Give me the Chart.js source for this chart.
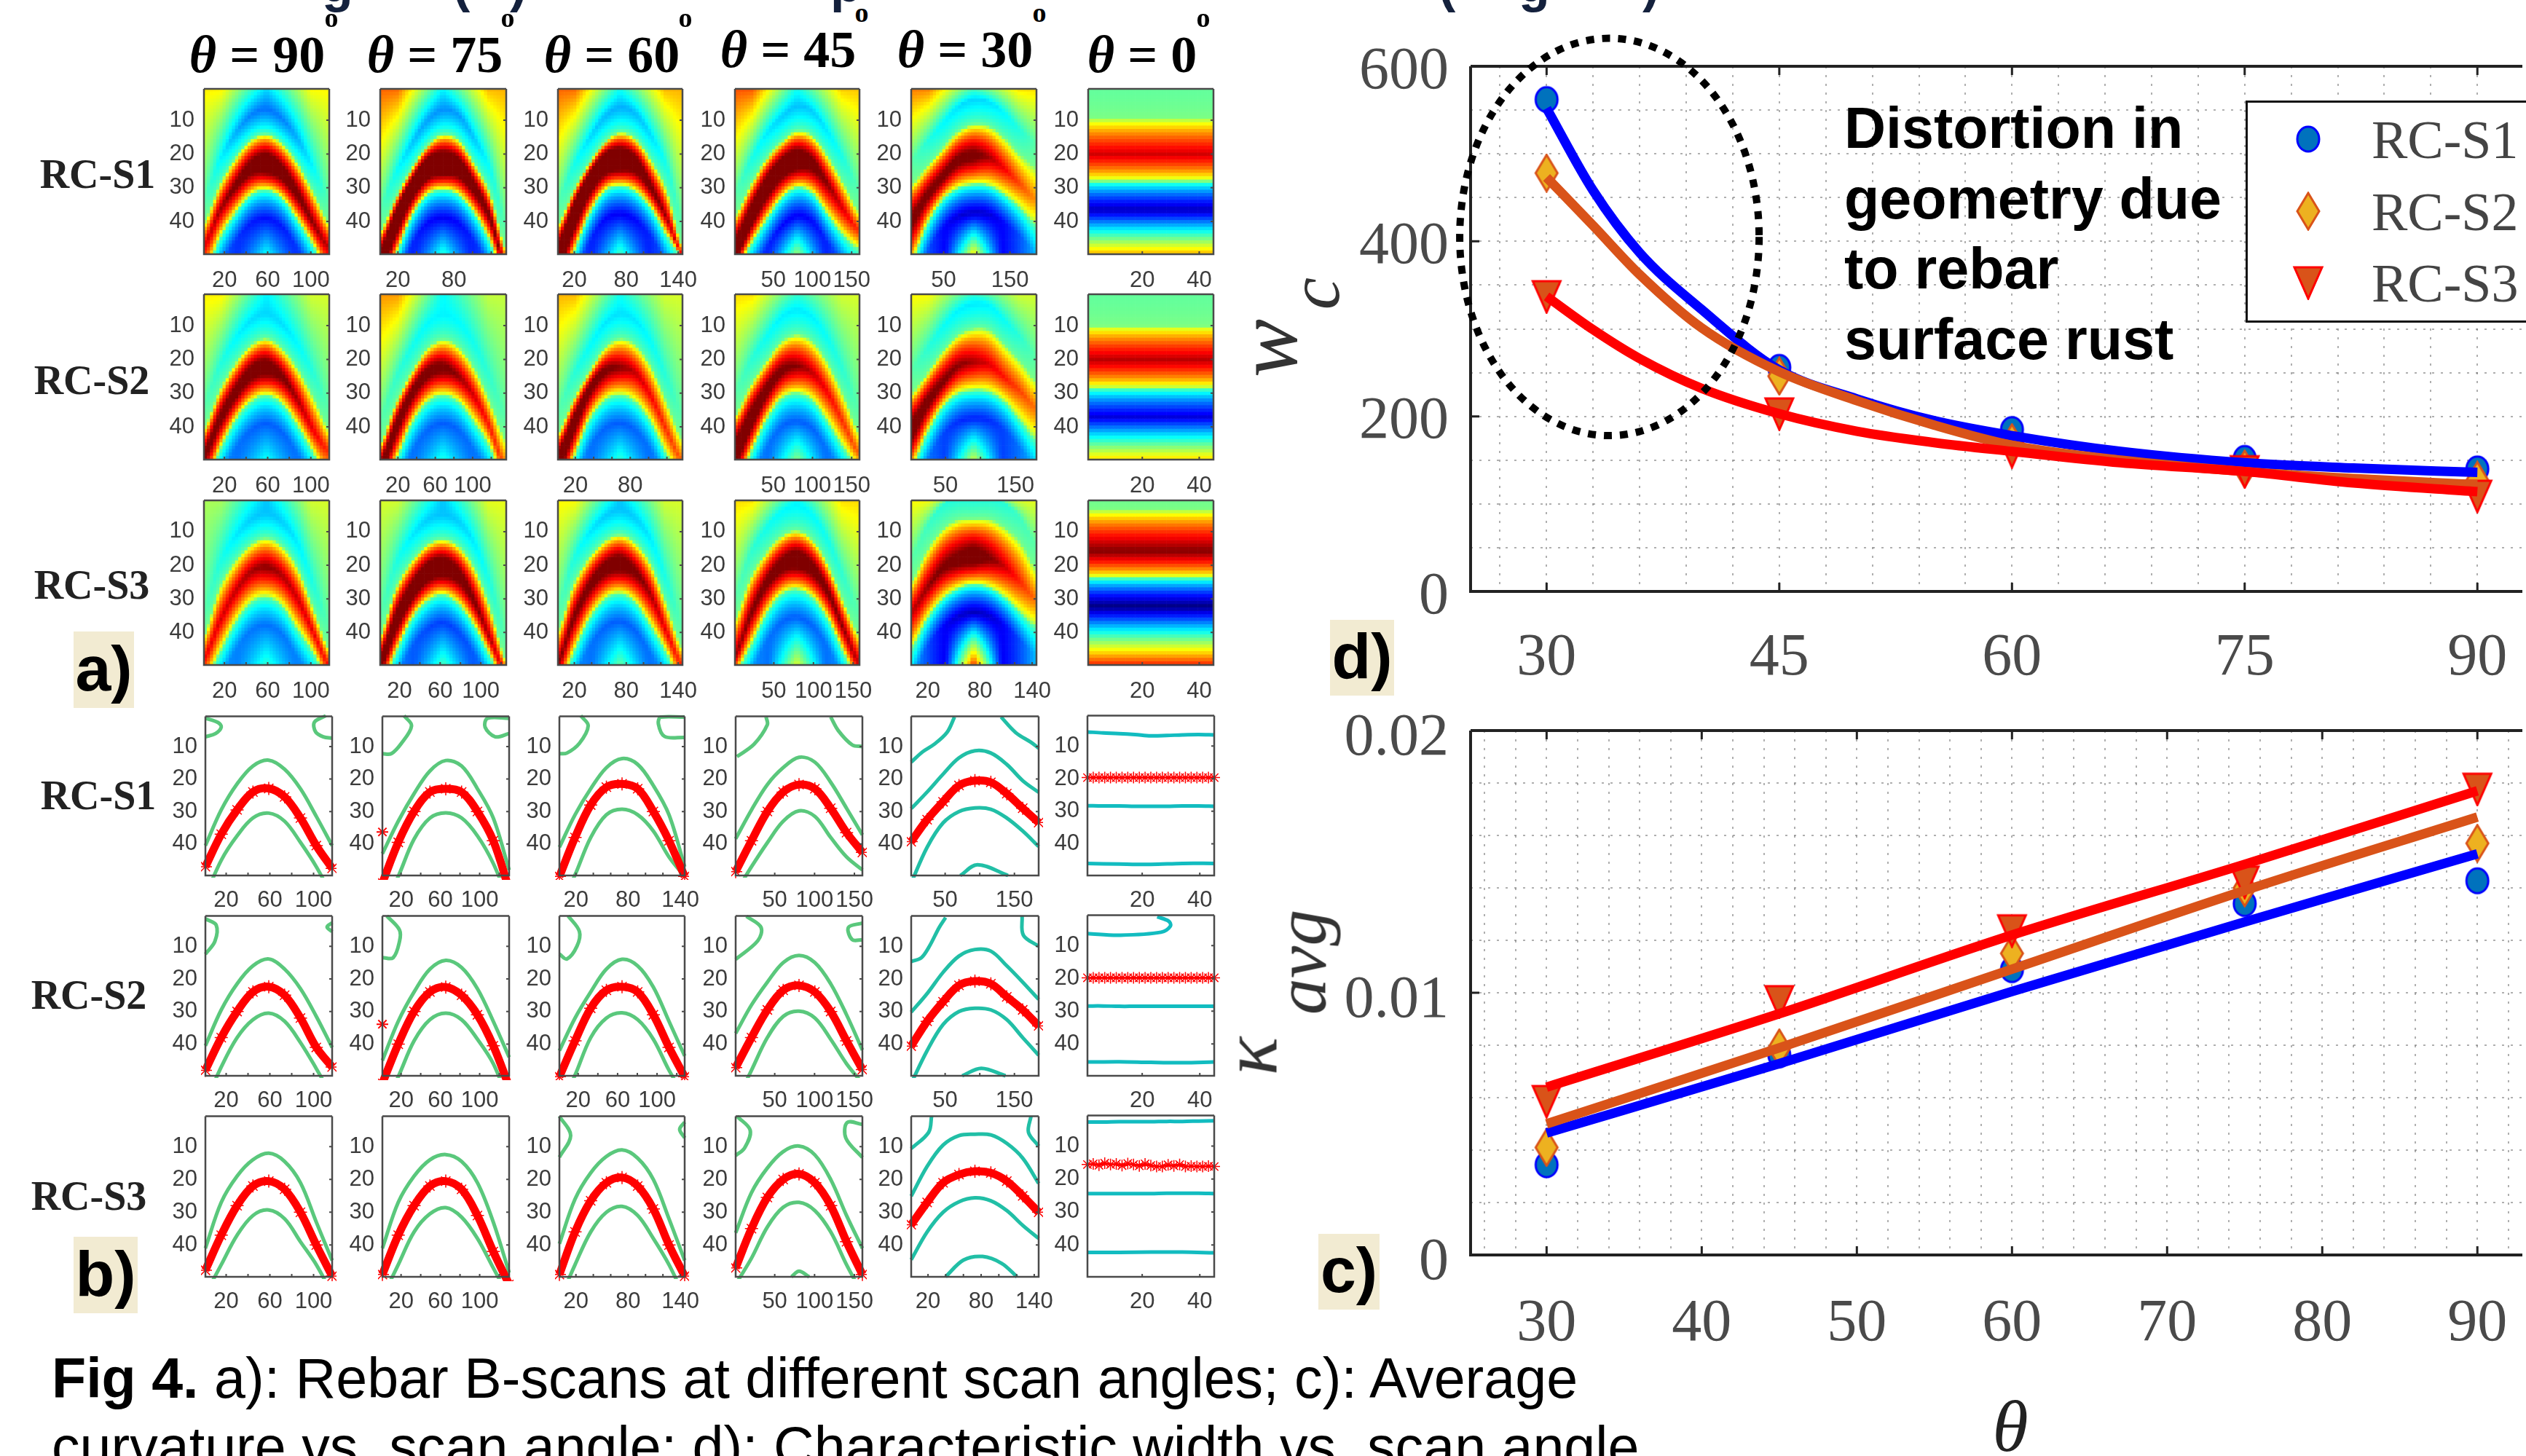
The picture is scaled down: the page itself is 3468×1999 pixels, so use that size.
<!DOCTYPE html>
<html>
<head>
<meta charset="utf-8">
<title>Fig 4</title>
<script src="https://cdn.jsdelivr.net/npm/chart.js@4/dist/chart.umd.min.js"></script>
<style>
  html, body { margin: 0; padding: 0; background: #fff; }
  #page { position: relative; width: 3468px; height: 1999px; overflow: hidden; background: #fff; }
  #page canvas { position: absolute; }
  .txt { position: absolute; white-space: pre; line-height: 1; }
</style>
</head>
<body>
<div id="page"></div>
<script>
// --- Data: line plots ---
const angleGroups = [30, 45, 60, 75, 90];
const fitAngles = [30, 33, 36, 40, 45, 50, 55, 60, 67, 75, 82, 90];
const seriesNames = ['RC-S1', 'RC-S2', 'RC-S3'];

const widthPointsS1 = [562, 256, 185, 152, 140];
const widthPointsS2 = [478, 246, 170, 140, 127];
const widthPointsS3 = [337, 203, 160, 137, 109];
const widthFitS1 = [552, 458, 387, 322, 253, 220, 195, 178, 160, 147, 141, 136];
const widthFitS2 = [473, 418, 362, 301, 251, 218, 190, 167, 150, 137, 129, 122];
const widthFitS3 = [337, 299, 266, 232, 203, 183, 170, 160, 147, 137, 124, 114];

const curvPointsS1 = [0.00344, 0.00763, 0.01088, 0.0134, 0.01427];
const curvPointsS2 = [0.0041, 0.0079, 0.0115, 0.014, 0.0157];
const curvPointsS3 = [0.00586, 0.00967, 0.01237, 0.01423, 0.01777];
const curvFitS1 = [0.00465, 0.0073, 0.01005, 0.0127, 0.0153];
const curvFitS2 = [0.0050, 0.0079, 0.0109, 0.0139, 0.0167];
const curvFitS3 = [0.0064, 0.0092, 0.0122, 0.0149, 0.0177];

const widthGridX = [27, 30, 33, 36, 39, 42, 45, 48, 51, 54, 57, 60, 63, 66, 69, 72, 75, 78, 81, 84, 87, 90];
const widthGridY = [0, 50, 100, 150, 200, 250, 300, 350, 400, 450, 500, 550, 600];
const widthLabelsX = [30, 45, 60, 75, 90];
const widthLabelsY = [0, 200, 400, 600];
const curvGridX = [26, 28, 30, 32, 34, 36, 38, 40, 42, 44, 46, 48, 50, 52, 54, 56, 58, 60, 62, 64, 66, 68, 70, 72, 74, 76, 78, 80, 82, 84, 86, 88, 90, 92];
const curvGridY = [0, 0.002, 0.004, 0.006, 0.008, 0.01, 0.012, 0.014, 0.016, 0.018, 0.02];
const curvLabelsX = [30, 40, 50, 60, 70, 80, 90];
const curvLabelsY = [0, 0.01, 0.02];

// --- Data: B-scan panels ---
const scanAngles = ['90', '75', '60', '45', '30', '0'];
const rowNames = ['RC-S1', 'RC-S2', 'RC-S3'];
const depthTicks = [10, 20, 30, 40];

const xMaxHeat = [[117, 136, 145, 160, 190, 45], [117, 136, 137, 160, 180, 45], [117, 125, 145, 158, 145, 45]];
const xMaxContour = [[117, 130, 145, 160, 185, 45], [117, 130, 128, 160, 185, 45], [117, 130, 145, 160, 145, 45]];
const xLabelsHeat = [
  [[20, 60, 100], [20, 80], [20, 80, 140], [50, 100, 150], [50, 150], [20, 40]],
  [[20, 60, 100], [20, 60, 100], [20, 80], [50, 100, 150], [50, 150], [20, 40]],
  [[20, 60, 100], [20, 60, 100], [20, 80, 140], [50, 100, 150], [20, 80, 140], [20, 40]]
];
const xLabelsContour = [
  [[20, 60, 100], [20, 60, 100], [20, 80, 140], [50, 100, 150], [50, 150], [20, 40]],
  [[20, 60, 100], [20, 60, 100], [20, 60, 100], [50, 100, 150], [50, 150], [20, 40]],
  [[20, 60, 100], [20, 60, 100], [20, 80, 140], [50, 100, 150], [20, 80, 140], [20, 40]]
];

// contour depth read at 9 evenly spaced stations across each panel
const upperS1 = [
  [40.5, 29.5, 21.5, 16, 14.2, 17, 23, 31.5, 40.5],
  [43, 33, 24.5, 17.5, 14.3, 16, 23, 32, 48],
  [41, 31, 23, 16.5, 13.7, 15.5, 22, 31, 47],
  [38.4, 29.5, 21.7, 16.5, 13.3, 14.8, 21, 29, 37.2],
  [29.1, 24, 18.5, 13.5, 11.3, 12, 15.5, 20.5, 24.1],
  [5.7, 6, 6.2, 6.5, 6.9, 6.8, 6.6, 6.5, 6.6]
];
const peakS1 = [
  [47, 37, 29.5, 24, 22.9, 25.5, 32, 40.5, 47.5],
  [52, 39.5, 30, 24, 23, 24, 30, 39, 54],
  [50, 38, 28, 22.5, 21.5, 23, 30, 39, 50],
  [48.5, 39, 30, 24, 21.7, 23, 29, 36.5, 42.6],
  [39.3, 32.5, 27, 22, 20.5, 21, 24.5, 29, 33.4],
  []
];
const lowerS1 = [
  [56, 45, 37.5, 32, 30.5, 33, 39.5, 47, 56],
  [60, 50, 38.5, 32, 30.4, 32, 37.5, 46, 58],
  [60, 49.5, 38, 31, 29.3, 31, 36, 44, 50],
  [55, 47, 39.6, 33, 29.8, 31.5, 38, 44, 48],
  [52, 41, 33.5, 30, 28.9, 29.3, 32, 36, 40.8],
  [28.3, 28.4, 28.4, 28.5, 28.5, 28.5, 28.4, 28.4, 28.5]
];
const upperS2 = [
  [40.5, 29.5, 21.5, 16, 13.9, 17, 23, 31.5, 41],
  [45, 33, 24, 17, 14.3, 16.5, 23, 33, 44],
  [42, 32, 24, 17, 14, 16, 22.5, 33, 43.6],
  [36.7, 28, 21, 15, 12.8, 15, 21.5, 31, 41.8],
  [30.2, 24.5, 18, 13, 11, 11.5, 16, 21, 26.3],
  []
];
const peakS2 = [
  [48, 38, 30, 24, 22.4, 25, 32, 41, 47],
  [52, 40, 30, 24, 22.5, 25, 31, 40.5, 53],
  [50, 39, 29, 23.5, 22.4, 24, 31, 41, 50],
  [47.2, 38, 29.5, 23.5, 22, 24, 30, 39, 47.8],
  [40.6, 33, 27, 22, 20.7, 21.5, 25.5, 29.5, 34.4],
  []
];
const lowerS2 = [
  [58, 47, 38, 32.5, 30.5, 33, 39.5, 47.5, 56],
  [60, 50, 39, 32.5, 30.5, 32.5, 38.5, 46, 58],
  [60, 49.5, 38, 32, 30.4, 32.5, 38.5, 48, 56],
  [58, 48, 38, 31.5, 29.9, 32, 38.5, 46, 52],
  [52, 42, 34, 30, 29, 29.5, 32.5, 38, 43.4],
  [28.4, 28.4, 28.5, 28.5, 28.5, 28.5, 28.5, 28.5, 28.5]
];
const upperS3 = [
  [41, 27, 19, 14, 12, 14.5, 21, 33, 44.7],
  [41, 27, 19, 14, 12.4, 14.5, 21, 33, 48.4],
  [39.6, 26, 18, 13, 11, 13.5, 20, 32, 44.7],
  [36.3, 24, 16.5, 11.5, 9.8, 12.5, 20, 31, 41],
  [25.1, 16, 9.5, 6.6, 6.2, 6.4, 9, 13.5, 21.2],
  [2.7, 2.7, 2.6, 2.6, 2.6, 2.5, 2.5, 2.4, 2.3]
];
const peakS3 = [
  [47.7, 37, 28, 22, 20.5, 23, 30, 40, 49.5],
  [49, 37, 28, 22, 20.5, 23, 31, 42, 52],
  [49, 36, 26.5, 21, 19.4, 22, 29, 40, 49.5],
  [47, 35, 25.5, 20, 18.3, 21, 28, 39, 49],
  [33.8, 27, 21, 18.5, 17.5, 18, 20.5, 25, 30],
  []
];
const lowerS3 = [
  [55, 46, 37, 31, 29.3, 32, 39, 46, 55],
  [56, 46, 36, 30.5, 28.6, 31.5, 38, 47, 56],
  [57, 46, 36, 30, 28.2, 31, 38, 46, 56],
  [52, 44, 34.5, 28.5, 27, 29.5, 36, 46, 55],
  [44.5, 36, 30, 26.8, 25.6, 26.5, 29.5, 34, 38],
  [24.4, 24.4, 24.4, 24.4, 24.4, 24.3, 24.3, 24.3, 24.4]
];
const upperByRow = [upperS1, upperS2, upperS3];
const peakByRow = [peakS1, peakS2, peakS3];
const lowerByRow = [lowerS1, lowerS2, lowerS3];

// flat rebar trace at theta = 0, read every second scan position
const flatTraceX = [1, 3, 5, 7, 9, 11, 13, 15, 17, 19, 21, 23, 25, 27, 29, 31, 33, 35, 37, 39, 41, 43, 45];
const flatTraceS1 = [19.7, 19.7, 19.7, 19.7, 19.7, 19.7, 19.7, 19.7, 19.7, 19.7, 19.7, 19.7, 19.7, 19.7, 19.7, 19.7, 19.7, 19.7, 19.7, 19.7, 19.7, 19.7, 19.7];
const flatTraceS2 = [19.8, 19.8, 19.8, 19.8, 19.8, 19.8, 19.8, 19.8, 19.8, 19.8, 19.8, 19.8, 19.8, 19.8, 19.8, 19.8, 19.8, 19.8, 19.8, 19.8, 19.8, 19.8, 19.8];
const flatTraceS3 = [15.6, 15.4, 15.8, 15.2, 15.6, 15.4, 15.9, 15.3, 15.6, 16, 15.4, 15.9, 16.2, 16.2, 15.7, 16, 15.6, 16.2, 16.1, 16.2, 16.2, 16.1, 16.2];
const flatTraces = [flatTraceS1, flatTraceS2, flatTraceS3];

// extra contour pieces: [fraction across the panel, depth]
const extraContours = [
  [
    [[[0, 1.3], [0.1, 2.6], [0.125, 4], [0.08, 6], [0, 7]], [[0.95, 0.5], [0.86, 2.5], [0.87, 5.5], [0.93, 7], [1, 7.4]]],
    [[[0.17, 0.5], [0.23, 3.6], [0.15, 9], [0.07, 12.2], [0, 12.2]], [[1, 1.3], [0.83, 1.3], [0.81, 4], [0.89, 7], [1, 6]]],
    [[[0.17, 0.5], [0.23, 3.6], [0.16, 9], [0.06, 12], [0, 12.2]], [[1, 0.9], [0.81, 0.9], [0.79, 3], [0.84, 6.9], [1, 7.2]]],
    [[[0.24, 0.9], [0.25, 3.3], [0.145, 9.3], [0.01, 13.1]], [[0.75, 0.9], [0.81, 5.1], [0.92, 9.5], [1, 10]]],
    [[[0, 14.8], [0.09, 11.6], [0.18, 9.3], [0.28, 5.7], [0.34, 0.9]], [[0.705, 0.9], [0.82, 5.7], [0.94, 8.7], [1, 10.5]], [[0.385, 49.7], [0.52, 46.4], [0.76, 49.7]]],
    [[[0, 46], [0.25, 46.2], [0.5, 46.3], [0.75, 46], [1, 46]]]
  ],
  [
    [[[0, 1.6], [0.085, 3.5], [0.075, 8.5], [0, 12.4]], [[1, 2.8], [0.96, 4.1], [1, 5.5]]],
    [[[0.035, 0.7], [0.135, 5], [0.135, 8.5], [0.085, 13.5], [0, 13.5]]],
    [[[0.07, 0.7], [0.16, 5.5], [0.14, 10], [0.06, 13.9], [0, 12.4]]],
    [[[0.085, 0.8], [0.2, 4.2], [0.175, 8.3], [0, 14]], [[1, 2.9], [0.89, 4.2], [0.92, 8], [1, 8]]],
    [[[0.27, 1.2], [0.22, 4.2], [0.14, 10.2], [0.08, 13.5], [0, 14.7]], [[0.87, 0.8], [0.88, 6.6], [1, 10]], [[0.4, 49.7], [0.55, 47.4], [0.74, 49.7]]],
    [[[0, 6.3], [0.25, 6.8], [0.58, 5.9], [0.655, 4], [0.64, 2.5], [0.55, 1.2]], [[0, 45.5], [0.25, 45.4], [0.5, 45.6], [0.75, 45.7], [1, 45.5]]]
  ],
  [
    [],
    [],
    [[[0, 0.7], [0.09, 6.6], [0, 13.2]], [[1, 2.5], [0.96, 4.7], [1, 7.3]]],
    [[[0.01, 0.7], [0.115, 5], [0.07, 10.4], [0, 12.7]], [[1, 3.2], [0.88, 2.6], [0.87, 7.4], [1, 13.3]], [[0.44, 49.7], [0.5, 48], [0.58, 49.7]]],
    [[[0.16, 0.7], [0.137, 5.6], [0, 10.6]], [[0.94, 0.7], [0.92, 5.6], [1, 9.8]], [[0.27, 49.7], [0.41, 44.6], [0.56, 43.5], [0.71, 45.6], [0.83, 49.7]]],
    [[[0, 42.3], [0.25, 42.3], [0.5, 42.2], [0.75, 42.2], [1, 42.4]]]
  ]
];
// stray red detections at the left edge: [row, col, depth]
const strayMarks = [[0, 1, 36.3], [1, 1, 33.9]];

// colour-scale levels read per panel:
// peak left, peak centre, peak right, arch, valley, top left, top centre, top right, bottom
const heatLevelsS1 = [
  [0.92, 1.15, 0.95, 0.22, 0.12, 0.66, 0.33, 0.65, 0.38],
  [1.2, 1.2, 0.98, 0.25, 0.1, 0.8, 0.36, 0.72, 0.42],
  [1.2, 1.2, 0.9, 0.28, 0.1, 0.8, 0.38, 0.72, 0.45],
  [1.15, 1.15, 0.85, 0.3, 0.1, 0.82, 0.38, 0.7, 0.55],
  [1.05, 1.05, 0.75, 0.32, 0.06, 0.78, 0.45, 0.68, 0.68],
  [0.93, 0.93, 0.93, 0.47, 0.05, 0.47, 0.47, 0.47, 0.74]
];
const heatLevelsS2 = [
  [1.05, 1.1, 0.85, 0.32, 0.2, 0.66, 0.35, 0.6, 0.38],
  [1.1, 1.05, 0.82, 0.35, 0.2, 0.75, 0.36, 0.58, 0.4],
  [1.15, 1.0, 0.8, 0.33, 0.2, 0.72, 0.38, 0.6, 0.42],
  [1.15, 1.0, 0.8, 0.34, 0.2, 0.68, 0.42, 0.6, 0.52],
  [1.1, 0.97, 0.78, 0.34, 0.14, 0.65, 0.42, 0.6, 0.6],
  [0.95, 0.95, 0.95, 0.47, 0.08, 0.47, 0.47, 0.47, 0.7]
];
const heatLevelsS3 = [
  [0.9, 1.0, 0.88, 0.3, 0.22, 0.55, 0.3, 0.6, 0.42],
  [1.1, 1.15, 0.9, 0.3, 0.17, 0.6, 0.3, 0.62, 0.45],
  [1.0, 1.1, 0.85, 0.3, 0.2, 0.65, 0.3, 0.6, 0.48],
  [0.98, 1.12, 0.95, 0.35, 0.2, 0.68, 0.36, 0.68, 0.62],
  [0.95, 1.1, 0.78, 0.38, 0.05, 0.65, 0.42, 0.62, 0.88],
  [1.0, 1.0, 1.0, 0.47, 0.0, 0.47, 0.47, 0.47, 0.88]
];
const heatLevels = [heatLevelsS1, heatLevelsS2, heatLevelsS3];
// theta = 0 bands: upper edge, peak, lower edge
const flatBands = [[9.5, 20, 28], [10, 20, 28.5], [3.5, 15.7, 23.7]];

// jet colour map stops
const jetStops = [0, 0.11, 0.36, 0.5, 0.64, 0.89, 1];
const jetColors = [[0, 0, 128], [0, 0, 255], [0, 255, 255], [128, 255, 128], [255, 255, 0], [255, 0, 0], [128, 0, 0]];

// --- Layout ---
const page = document.getElementById('page');
const heatLefts = [280, 522, 766, 1009, 1251, 1494];
const heatRights = [452, 695, 937, 1180, 1423, 1666];
const heatTops = [122, 404, 687];
const heatBottoms = [349, 631, 913];
const contourLefts = [282, 525, 768, 1010, 1251, 1493];
const contourRights = [456, 699, 940, 1184, 1426, 1667];
const contourTops = [981, 1255, 1530];
const contourBottoms = [1202, 1477, 1753];
const HEAT_COLUMNS = 40;
const AXIS_W = 80;
const AXIS_H = 60;
const PAD = 8;
const depthMin = 0.7;
const depthMax = 49.7;

const DARK = '#3c3c3c';
const BLUE = '#0000ff';
const ORANGE = '#d95319';
const RED = '#ff0000';

// --- Helpers ---
const lerp = (a, b, t) => a + (b - a) * t;

const sampleCurve = (arr, f) => {
  const p = f * 8;
  const i = Math.min(7, Math.floor(p));
  const t = p - i;
  const a = arr[Math.max(i - 1, 0)], b = arr[i], c = arr[i + 1], d = arr[Math.min(i + 2, 8)];
  return 0.5 * (2 * b + (c - a) * t + (2 * a - 5 * b + 4 * c - d) * t * t + (3 * b - a - 3 * c + d) * t * t * t);
};

const jet = (h) => {
  const v = Math.max(0, Math.min(1, h));
  let i = 0;
  while (i < jetStops.length - 2 && v > jetStops[i + 1]) i++;
  const t = (v - jetStops[i]) / (jetStops[i + 1] - jetStops[i]);
  const c = jetColors[i].map((n, k) => Math.round(lerp(n, jetColors[i + 1][k], t)));
  return `rgb(${c[0]},${c[1]},${c[2]})`;
};

const addText = (html, x, y, css) => {
  const el = document.createElement('div');
  el.className = 'txt';
  el.innerHTML = html;
  el.style.cssText = `left:${x}px;top:${y}px;${css}`;
  page.appendChild(el);
  return el;
};

const addCanvas = (left, top, width, height) => {
  const c = document.createElement('canvas');
  c.width = width;
  c.height = height;
  c.style.left = left + 'px';
  c.style.top = top + 'px';
  c.style.width = width + 'px';
  c.style.height = height + 'px';
  page.appendChild(c);
  return c;
};

const xTickList = (labels, xMax) => {
  const step = labels[0] === 50 || labels[1] === 100 || labels[1] === 150 ? 50 : 20;
  const out = [];
  for (let v = step; v < xMax; v += step) out.push(v);
  return out;
};

// box and inward tick marks
const framePlugin = (xMarks, yMarks, len, lineW, color, sides) => ({
  id: 'frame',
  afterDatasetsDraw(chart) {
    const { ctx, chartArea: a, scales } = chart;
    ctx.save();
    ctx.strokeStyle = color;
    ctx.lineWidth = lineW;
    ctx.beginPath();
    ctx.moveTo(a.left, a.top);
    ctx.lineTo(a.left, a.bottom);
    ctx.lineTo(a.right, a.bottom);
    if (sides.right) ctx.lineTo(a.right, a.top);
    ctx.moveTo(a.right, a.top);
    ctx.lineTo(a.left, a.top);
    ctx.stroke();
    ctx.lineWidth = Math.max(2, lineW - 1);
    ctx.beginPath();
    xMarks.forEach(v => {
      const px = scales.x.getPixelForValue(v);
      ctx.moveTo(px, a.bottom);
      ctx.lineTo(px, a.bottom - len);
      if (sides.topTicks) {
        ctx.moveTo(px, a.top);
        ctx.lineTo(px, a.top + len);
      }
    });
    yMarks.forEach(v => {
      const py = scales.y.getPixelForValue(v);
      const from = sides.right ? a.right : a.left;
      const dir = sides.right ? -1 : 1;
      ctx.moveTo(from, py);
      ctx.lineTo(from + dir * len, py);
    });
    ctx.stroke();
    ctx.restore();
  }
});

const fixAxis = (w, h) => (scale) => {
  if (w) scale.width = w;
  if (h) scale.height = h;
  scale.paddingLeft = scale.paddingRight = scale.paddingTop = scale.paddingBottom = 0;
};

const panelScales = (xMax, labels, fontSize, xPad, yPad) => ({
  x: {
    type: 'linear', min: 1, max: xMax, offset: false,
    grid: { display: false }, border: { display: false },
    afterBuildTicks: s => { s.ticks = xTickList(labels, xMax).map(value => ({ value })); },
    afterFit: fixAxis(0, AXIS_H),
    ticks: {
      autoSkip: false, maxRotation: 0, padding: xPad, color: DARK,
      font: { family: 'Liberation Sans', size: fontSize },
      callback: v => labels.includes(v) ? String(v) : ''
    }
  },
  y: {
    type: 'linear', reverse: true, min: depthMin, max: depthMax,
    grid: { display: false }, border: { display: false },
    afterBuildTicks: s => { s.ticks = depthTicks.map(value => ({ value })); },
    afterFit: fixAxis(AXIS_W, 0),
    ticks: {
      autoSkip: false, padding: yPad, color: DARK,
      font: { family: 'Liberation Sans', size: fontSize },
      callback: v => String(v)
    }
  }
});

const panelOptions = (scales) => ({
  responsive: false, animation: false, events: [],
  layout: { padding: { top: PAD, right: 50, left: 0, bottom: 0 } },
  plugins: { legend: { display: false }, tooltip: { enabled: false } },
  scales
});

// --- Heat panels: one run of cells per depth row ---
const heatValue = (y, s) => {
  if (y <= s.U) {
    if (y >= s.yA) return lerp(0.5, s.arch, Math.pow((s.U - y) / (s.U - s.yA), 0.6));
    return lerp(s.top, s.arch, s.yA > 0 ? y / s.yA : 1);
  }
  if (y <= s.R) return 0.5 + (s.pk - 0.5) * Math.pow((y - s.U) / (s.R - s.U), 0.6);
  if (y <= s.L) return 0.5 + (s.pk - 0.5) * Math.pow((s.L - y) / (s.L - s.R), 0.6);
  if (y <= s.yV) return lerp(0.5, s.val, Math.pow((y - s.L) / (s.yV - s.L), 0.6));
  return lerp(s.val, s.bot, (y - s.yV) / (50 - s.yV));
};

const columnState = (row, col, f) => {
  const lv = heatLevels[row][col];
  const flat = col === 5;
  const t = flat ? 0 : Math.abs(2 * f - 1);
  const U = flat ? flatBands[row][0] : sampleCurve(upperByRow[row][col], f);
  const R = flat ? flatBands[row][1] : sampleCurve(peakByRow[row][col], f);
  const L = flat ? flatBands[row][2] : sampleCurve(lowerByRow[row][col], f);
  const pk = lerp(lv[1], f < 0.5 ? lv[0] : lv[2], t);
  const arch = lv[3] + (0.46 - lv[3]) * t * t;
  const val = lv[4] + (0.3 - lv[4]) * t * t;
  const top = lerp(lv[6], f < 0.5 ? lv[5] : lv[7], Math.min(1, t * 1.4));
  const bot = lerp(lv[8], val, Math.min(1, t * 2.2));
  return { U, R, L, pk, arch, val, top, bot, yA: U - 7.5, yV: L + 8.5 };
};

const makeHeat = (row, col) => {
  const xMax = xMaxHeat[row][col];
  const states = [];
  const xs = [];
  for (let i = 0; i < HEAT_COLUMNS; i++) {
    const f = (i + 0.5) / HEAT_COLUMNS;
    states.push(columnState(row, col, f));
    xs.push(1 + f * (xMax - 1));
  }
  const datasets = [];
  for (let d = 1; d <= 49; d++) {
    datasets.push({
      data: xs.map(x => ({ x, y: [d - 0.5, d + 0.5] })),
      backgroundColor: states.map(s => jet(heatValue(d, s))),
      borderWidth: 0
    });
  }
  const left = heatLefts[col], right = heatRights[col], top = heatTops[row], bottom = heatBottoms[row];
  const canvas = addCanvas(left - AXIS_W, top - PAD, right - left + AXIS_W + 50, bottom - top + PAD + AXIS_H);
  const opts = panelOptions(panelScales(xMax, xLabelsHeat[row][col], 31, 10, 5));
  opts.datasets = { bar: { grouped: false, barPercentage: 1, categoryPercentage: 1 } };
  new Chart(canvas, {
    type: 'bar',
    data: { datasets },
    options: opts,
    plugins: [framePlugin(xTickList(xLabelsHeat[row][col], xMax), depthTicks, 4, 2.5, '#4a4a4a', { right: true })]
  });
};

// --- Contour panels ---
const contourColor = (col) => col === 5 ? '#12bcc0' : col === 4 ? '#21bfa6' : '#5ac87c';

const makeContour = (row, col) => {
  const xMax = xMaxContour[row][col];
  const toX = f => 1 + f * (xMax - 1);
  const color = contourColor(col);
  const lineSet = (points) => ({
    data: points, borderColor: color, borderWidth: 5, pointRadius: 0, tension: 0.35, fill: false, clip: 3, spanGaps: false
  });
  const fromStations = arr => arr.map((y, i) => ({ x: toX(i / 8), y }));
  const datasets = [];

  if (col === 5) {
    datasets.push({
      data: flatTraceX.map((x, i) => ({ x, y: flatTraces[row][i] })),
      borderColor: RED, borderWidth: 3, pointStyle: 'star', pointRadius: 8, pointBorderWidth: 1.5,
      pointBorderColor: RED, clip: 10
    });
  } else {
    datasets.push({
      data: fromStations(peakByRow[row][col]),
      borderColor: RED, borderWidth: 11, tension: 0.35, pointStyle: 'star', pointRadius: 9, pointBorderWidth: 1.5,
      pointBorderColor: RED, clip: 6
    });
  }
  if (upperByRow[row][col].length) datasets.push(lineSet(fromStations(upperByRow[row][col])));
  datasets.push(lineSet(fromStations(lowerByRow[row][col])));
  extraContours[row][col].forEach(piece => {
    datasets.push(lineSet(piece.map(p => ({ x: toX(p[0]), y: p[1] }))));
  });
  strayMarks.filter(m => m[0] === row && m[1] === col).forEach(m => {
    datasets.push({
      data: [{ x: 1, y: m[2] }], showLine: false, pointStyle: 'star', pointRadius: 8,
      pointBorderColor: RED, pointBorderWidth: 2, clip: 10
    });
  });

  const left = contourLefts[col], right = contourRights[col], top = contourTops[row], bottom = contourBottoms[row];
  const canvas = addCanvas(left - AXIS_W, top - PAD, right - left + AXIS_W + 50, bottom - top + PAD + AXIS_H);
  new Chart(canvas, {
    type: 'line',
    data: { datasets },
    options: panelOptions(panelScales(xMax, xLabelsContour[row][col], 31, 8, 3)),
    plugins: [framePlugin(xTickList(xLabelsContour[row][col], xMax), depthTicks, 4, 2.5, '#4a4a4a', { right: true })]
  });
};

// --- Markers for the line plots ---
const makeMarker = (kind, w, h, fill, stroke) => {
  const c = document.createElement('canvas');
  c.width = w + 4;
  c.height = h + 4;
  const ctx = c.getContext('2d');
  const cx = c.width / 2, cy = c.height / 2;
  ctx.fillStyle = fill;
  ctx.strokeStyle = stroke;
  ctx.lineWidth = 3;
  ctx.beginPath();
  if (kind === 'circle') {
    ctx.ellipse(cx, cy, w / 2 - 1, h / 2 - 1, 0, 0, Math.PI * 2);
  } else if (kind === 'diamond') {
    ctx.moveTo(cx, 2);
    ctx.lineTo(cx + w / 2 - 1, cy);
    ctx.lineTo(cx, c.height - 2);
    ctx.lineTo(cx - w / 2 + 1, cy);
    ctx.closePath();
  } else {
    ctx.moveTo(3, 3);
    ctx.lineTo(c.width - 3, 3);
    ctx.lineTo(cx, c.height - 2);
    ctx.closePath();
  }
  ctx.fill();
  ctx.stroke();
  return c;
};
const markerS1 = () => makeMarker('circle', 32, 36, '#0072bd', '#0000ff');
const markerS2 = () => makeMarker('diamond', 32, 50, '#edb120', '#d95319');
const markerS3 = () => makeMarker('triangle', 40, 44, '#d95319', '#ff0000');

// --- Line plots ---
const serifFont = (size) => ({ family: 'Liberation Serif', size });
const GRID_GRAY = 'rgba(110,110,110,0.55)';

const lineScales = (xGrid, xLabels, yGrid, yLabels, yMax, yFormat, xPad, yOffset, xH) => ({
  x: {
    type: 'linear', min: 25.1, max: 92.9,
    grid: { color: GRID_GRAY, lineWidth: 2, drawTicks: false },
    border: { display: false, dash: [3, 9] },
    afterBuildTicks: s => { s.ticks = xGrid.map(value => ({ value })); },
    afterFit: fixAxis(0, xH),
    ticks: {
      autoSkip: false, maxRotation: 0, padding: xPad, color: '#4a4a4a', font: serifFont(82),
      callback: v => xLabels.includes(v) ? String(v) : ''
    }
  },
  y: {
    type: 'linear', min: 0, max: yMax,
    grid: { color: GRID_GRAY, lineWidth: 2, drawTicks: false },
    border: { display: false, dash: [3, 9] },
    afterBuildTicks: s => { s.ticks = yGrid.map(value => ({ value })); },
    afterFit: fixAxis(319, 0),
    ticks: {
      autoSkip: false, padding: 30, labelOffset: yOffset, color: '#4a4a4a', font: serifFont(82),
      callback: v => {
        const hit = yLabels.find(l => Math.abs(l - v) < 1e-9);
        return hit === undefined ? '' : yFormat(hit);
      }
    }
  }
});

const fitSet = (xs, ys, color) => ({
  data: xs.map((x, i) => ({ x, y: ys[i] })),
  borderColor: color, borderWidth: 13, pointRadius: 0, cubicInterpolationMode: 'monotone', fill: false
});
const pointSet = (name, ys, marker) => ({
  label: name,
  data: angleGroups.map((x, i) => ({ x, y: ys[i] })),
  showLine: false, pointStyle: marker, clip: false
});

// dotted ring drawn in the units of the plot
const ringCentreX = 34.05;
const ringCentreY = 405;
const ringRadiusX = 9.65;
const ringRadiusY = 227;
const ringPlugin = {
  id: 'ring',
  afterDraw(chart) {
    const { ctx, scales } = chart;
    const cx = scales.x.getPixelForValue(ringCentreX);
    const cy = scales.y.getPixelForValue(ringCentreY);
    const rx = Math.abs(scales.x.getPixelForValue(ringCentreX + ringRadiusX) - cx);
    const ry = Math.abs(scales.y.getPixelForValue(ringCentreY + ringRadiusY) - cy);
    ctx.save();
    ctx.strokeStyle = '#000';
    ctx.lineWidth = 10;
    ctx.setLineDash([11, 11]);
    ctx.beginPath();
    ctx.ellipse(cx, cy, rx, ry, 0, 0, Math.PI * 2);
    ctx.stroke();
    ctx.restore();
  }
};

const makeWidthChart = () => {
  const canvas = addCanvas(1700, 0, 1768, 950);
  new Chart(canvas, {
    type: 'line',
    data: {
      datasets: [
        fitSet(fitAngles, widthFitS3, RED),
        fitSet(fitAngles, widthFitS2, ORANGE),
        fitSet(fitAngles, widthFitS1, BLUE),
        pointSet(seriesNames[2], widthPointsS3, markerS3()),
        pointSet(seriesNames[1], widthPointsS2, markerS2()),
        pointSet(seriesNames[0], widthPointsS1, markerS1())
      ]
    },
    options: {
      responsive: false, animation: false, events: [],
      layout: { padding: { top: 91, right: 0, left: 0, bottom: 0 } },
      plugins: { legend: { display: false }, tooltip: { enabled: false } },
      scales: lineScales(widthGridX, widthLabelsX, widthGridY, widthLabelsY, 600, String, 43, 8, 138)
    },
    plugins: [framePlugin(widthLabelsX, widthLabelsY, 12, 4, '#222', { topTicks: true }), ringPlugin]
  });
};

const makeCurvatureChart = () => {
  const canvas = addCanvas(1700, 950, 1768, 905);
  new Chart(canvas, {
    type: 'line',
    data: {
      datasets: [
        fitSet(angleGroups, curvFitS3, RED),
        fitSet(angleGroups, curvFitS2, ORANGE),
        fitSet(angleGroups, curvFitS1, BLUE),
        pointSet(seriesNames[2], curvPointsS3, markerS3()),
        pointSet(seriesNames[1], curvPointsS2, markerS2()),
        pointSet(seriesNames[0], curvPointsS1, markerS1())
      ]
    },
    options: {
      responsive: false, animation: false, events: [],
      layout: { padding: { top: 53, right: 0, left: 0, bottom: 0 } },
      plugins: { legend: { display: false }, tooltip: { enabled: false } },
      scales: lineScales(curvGridX, curvLabelsX, curvGridY, curvLabelsY, 0.02, v => v === 0 ? '0' : v.toFixed(2), 46, 11, 132)
    },
    plugins: [framePlugin(curvLabelsX, curvLabelsY, 12, 4, '#222', { topTicks: true })]
  });
};

// --- Text and legend ---
const centred = 'transform:translate(-50%,-50%);';
const addHeaders = () => {
  const xs = [353, 597, 840, 1082, 1325, 1568];
  const ys = [75, 75, 75, 68, 68, 75];
  const ringX = [455, 697, 941, 1183, 1427, 1652];
  const ringY = [24, 24, 24, 17, 17, 24];
  scanAngles.forEach((a, i) => {
    addText(`<i>θ</i> = ${a}`, xs[i], ys[i], `${centred}font:bold 72px 'Liberation Serif';color:#000;`);
    addText('o', ringX[i], ringY[i], `${centred}font:bold 38px 'Liberation Serif';color:#000;`);
  });
};

const addRowNames = () => {
  const rowX = [[134, 126, 126], [135, 122, 122]];
  const rowY = [[239, 522, 803], [1092, 1366, 1642]];
  rowX.forEach((group, g) => group.forEach((x, r) => {
    addText(rowNames[r], x, rowY[g][r], `${centred}font:bold 56px 'Liberation Serif';color:#222;`);
  }));
};

const addTag = (label, left, top, right, bottom) => {
  const box = document.createElement('div');
  box.style.cssText = `position:absolute;left:${left}px;top:${top}px;width:${right - left}px;height:${bottom - top}px;background:#f2ebd2;`;
  page.appendChild(box);
  addText(label, (left + right) / 2, (top + bottom) / 2 - 2, `${centred}font:bold 88px 'Liberation Sans';color:#000;`);
};

const addLegend = () => {
  const box = document.createElement('div');
  box.style.cssText = 'position:absolute;left:3083px;top:138px;width:400px;height:299px;background:#fff;border:3px solid #111;';
  page.appendChild(box);
  const markers = [markerS1(), markerS2(), markerS3()];
  const ys = [191, 290, 388];
  seriesNames.forEach((name, i) => {
    const m = markers[i];
    m.style.left = (3169 - m.width / 2) + 'px';
    m.style.top = (ys[i] - m.height / 2) + 'px';
    page.appendChild(m);
    addText(name, 3256, ys[i] + 1, `transform:translateY(-50%);font:74px 'Liberation Serif';color:#444;`);
  });
};

const addAnnotations = () => {
  const bold = `font:bold 79px 'Liberation Sans';color:#000;`;
  ['Distortion in', 'geometry due', 'to rebar', 'surface rust'].forEach((line, i) => {
    addText(line, 2532, 130 + i * 96.5, bold);
  });
  const italic = (size) => `font:italic ${size}px 'Liberation Serif';color:#333;`;
  addText('w', 1740, 478, `transform:translate(-50%,-50%) rotate(-90deg);${italic(120)}`);
  addText('c', 1804, 403, `transform:translate(-50%,-50%) rotate(-90deg);${italic(100)}`);
  addText('κ', 1716, 1450, `transform:translate(-50%,-50%) rotate(-90deg);${italic(110)}`);
  addText('avg', 1786, 1321, `transform:translate(-50%,-50%) rotate(-90deg);${italic(100)}`);
  addText('θ', 2760, 1958, `${centred}${italic(100)}color:#222;`);
  const capFont = `font:77.2px 'Liberation Sans';color:#000;`;
  addText('<b>Fig 4.</b> a): Rebar B-scans at different scan angles; c): Average', 71, 1848, capFont);
  addText('curvature vs. scan angle; d): Characteristic width vs. scan angle', 71, 1942, capFont);
  // bottom of the cut-off heading above the figure
  const cut = `font:bold 70px 'Liberation Sans';color:#14213d;`;
  [['g', 442], ['(', 622], [')', 700], ['p', 1140], ['(', 1975], ['g', 2085], [')', 2255]].forEach(p => {
    addText(p[0], p[1], -62, cut);
  });
};

// --- Initializations ---
for (let row = 0; row < 3; row++) {
  for (let col = 0; col < 6; col++) {
    makeHeat(row, col);
    makeContour(row, col);
  }
}
makeWidthChart();
makeCurvatureChart();
addHeaders();
addRowNames();
addTag('a)', 101, 867, 184, 972);
addTag('b)', 101, 1698, 189, 1803);
addTag('c)', 1810, 1694, 1894, 1798);
addTag('d)', 1826, 851, 1914, 955);
addLegend();
addAnnotations();
</script>
</body>
</html>
